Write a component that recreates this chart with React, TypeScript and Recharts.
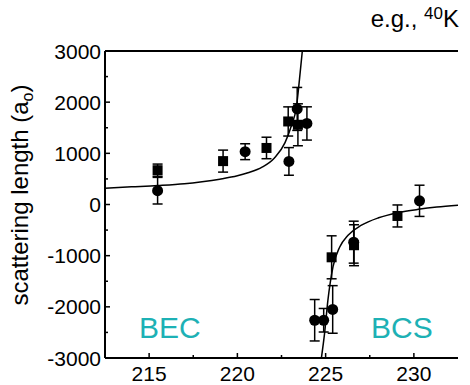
import React from 'react';
import { ComposedChart, ErrorBar, Line, Scatter, XAxis, YAxis } from 'recharts';

// magnetic field ticks (G) and scattering length ticks (a0)
const fieldTicks = [215, 217.5, 220, 222.5, 225, 227.5, 230];
const lengthTicks = [-3000, -2500, -2000, -1500, -1000, -500, 0, 500, 1000, 1500, 2000, 2500, 3000];

const squares = [
  { B: 215.48, a: 670, err: 120 },
  { B: 219.19, a: 848, err: 215 },
  { B: 221.65, a: 1105, err: 210 },
  { B: 222.88, a: 1623, err: 285 },
  { B: 223.43, a: 1558, err: 410 },
  { B: 225.34, a: -1032, err: 420 },
  { B: 226.61, a: -796, err: 400 },
  { B: 229.07, a: -224, err: 215 },
];

const circles = [
  { B: 215.48, a: 270, err: 260 },
  { B: 220.44, a: 1032, err: 155 },
  { B: 222.92, a: 842, err: 270 },
  { B: 223.39, a: 1868, err: 420 },
  { B: 223.94, a: 1584, err: 325 },
  { B: 224.38, a: -2262, err: 405 },
  { B: 224.89, a: -2262, err: 230 },
  { B: 225.4, a: -2051, err: 465 },
  { B: 226.59, a: -736, err: 410 },
  { B: 230.32, a: 72, err: 305 },
];

// fit curve, both sides of the resonance
const becBranch = [
  { B: 212.5, a: 320 },
  { B: 214, a: 345 },
  { B: 215.5, a: 370 },
  { B: 217, a: 405 },
  { B: 218, a: 445 },
  { B: 219, a: 495 },
  { B: 220, a: 560 },
  { B: 220.6, a: 620 },
  { B: 221.4, a: 730 },
  { B: 222.1, a: 910 },
  { B: 222.7, a: 1210 },
  { B: 223.05, a: 1530 },
  { B: 223.35, a: 1920 },
  { B: 223.52, a: 2450 },
  { B: 223.68, a: 3000 },
];

const bcsBranch = [
  { B: 224.76, a: -3000 },
  { B: 224.94, a: -2520 },
  { B: 225.13, a: -1870 },
  { B: 225.42, a: -1215 },
  { B: 225.8, a: -830 },
  { B: 226.27, a: -600 },
  { B: 227.03, a: -405 },
  { B: 228, a: -260 },
  { B: 229.1, a: -160 },
  { B: 230.25, a: -95 },
  { B: 231.3, a: -50 },
  { B: 232.5, a: -15 },
];

const font = '"Liberation Sans", Arial, Helvetica, sans-serif';
const teal = '#1db1b5';

const BottomTick = (props: any) => {
  const { x, y, payload } = props;
  const major = payload.value % 5 === 0;
  return (
    <g>
      <line x1={x} x2={x} y1={y} y2={y - (major ? 5 : 3)} stroke="#000" strokeWidth={1.5} />
      {major && (
        <text x={x} y={y + 23} textAnchor="middle" fontSize={21} fontFamily={font} fill="#000">
          {payload.value}
        </text>
      )}
    </g>
  );
};

const TopTick = (props: any) => {
  const { x, y, payload } = props;
  const major = payload.value % 5 === 0;
  return <line x1={x} x2={x} y1={y} y2={y + (major ? 5 : 3)} stroke="#000" strokeWidth={1.5} />;
};

const LeftTick = (props: any) => {
  const { x, y, payload } = props;
  const major = payload.value % 1000 === 0;
  return (
    <g>
      <line x1={x} x2={x + (major ? 5 : 3)} y1={y} y2={y} stroke="#000" strokeWidth={1.5} />
      {major && (
        <text x={x - 4} y={y + 7.5} textAnchor="end" fontSize={21} fontFamily={font} fill="#000">
          {payload.value}
        </text>
      )}
    </g>
  );
};

const RightTick = (props: any) => {
  const { x, y, payload } = props;
  const major = payload.value % 1000 === 0;
  return <line x1={x} x2={x - (major ? 5 : 3)} y1={y} y2={y} stroke="#000" strokeWidth={1.5} />;
};

const SquareMark = (p: any) => <rect x={p.cx - 5} y={p.cy - 5} width={10} height={10} fill="#000" />;
const CircleMark = (p: any) => <circle cx={p.cx} cy={p.cy} r={5.5} fill="#000" />;

export default function App() {
  return (
    <div style={{ position: 'absolute', left: 0, top: 0, width: 470, height: 385, background: '#fff' }}>
      <ComposedChart width={470} height={385} margin={{ top: 0, right: 12, bottom: 0, left: 0 }}>
        <XAxis
          xAxisId="x"
          dataKey="B"
          type="number"
          domain={[212.5, 232.5]}
          allowDataOverflow
          ticks={fieldTicks}
          interval={0}
          height={27}
          tickSize={0}
          tickMargin={0}
          tick={<BottomTick />}
          axisLine={{ stroke: '#000', strokeWidth: 2 }}
        />
        <XAxis
          xAxisId="top"
          orientation="top"
          type="number"
          domain={[212.5, 232.5]}
          ticks={fieldTicks}
          interval={0}
          height={51}
          tickSize={0}
          tickMargin={0}
          tick={<TopTick />}
          axisLine={{ stroke: '#000', strokeWidth: 2 }}
        />
        <YAxis
          yAxisId="y"
          dataKey="a"
          type="number"
          domain={[-3000, 3000]}
          allowDataOverflow
          ticks={lengthTicks}
          interval={0}
          width={105}
          tickSize={0}
          tickMargin={0}
          tick={<LeftTick />}
          axisLine={{ stroke: '#000', strokeWidth: 2 }}
        />
        <YAxis
          yAxisId="right"
          orientation="right"
          type="number"
          domain={[-3000, 3000]}
          ticks={lengthTicks}
          interval={0}
          width={0}
          tickSize={0}
          tickMargin={0}
          tick={<RightTick />}
          axisLine={{ stroke: '#000', strokeWidth: 2 }}
        />
        <Line
          xAxisId="x"
          yAxisId="y"
          data={becBranch}
          dataKey="a"
          type="monotone"
          stroke="#000"
          strokeWidth={1.5}
          dot={false}
          isAnimationActive={false}
        />
        <Line
          xAxisId="x"
          yAxisId="y"
          data={bcsBranch}
          dataKey="a"
          type="monotone"
          stroke="#000"
          strokeWidth={1.5}
          dot={false}
          isAnimationActive={false}
        />
        <Scatter xAxisId="x" yAxisId="y" data={squares} dataKey="a" shape={SquareMark} isAnimationActive={false}>
          <ErrorBar dataKey="err" direction="y" width={5} stroke="#000" strokeWidth={1.5} />
        </Scatter>
        <Scatter xAxisId="x" yAxisId="y" data={circles} dataKey="a" shape={CircleMark} isAnimationActive={false}>
          <ErrorBar dataKey="err" direction="y" width={5} stroke="#000" strokeWidth={1.5} />
        </Scatter>
      </ComposedChart>
      <svg
        width={470}
        height={385}
        style={{ position: 'absolute', left: 0, top: 0, pointerEvents: 'none' }}
        fontFamily={font}
      >
        <text x={459} y={27} textAnchor="end" fontSize={24} fill="#000">
          e.g.,{' '}
          <tspan fontSize={17} dy={-8}>
            40
          </tspan>
          <tspan dy={8}>K</tspan>
        </text>
        <text transform="rotate(-90)" x={-195} y={28} textAnchor="middle" fontSize={24} fill="#000">
          scattering length (a
          <tspan fontSize={16} dy={5}>
            o
          </tspan>
          <tspan dy={-5}>)</tspan>
        </text>
        <text x={139} y={338} fontSize={30} fill={teal}>
          BEC
        </text>
        <text x={371} y={338} fontSize={30} fill={teal}>
          BCS
        </text>
      </svg>
    </div>
  );
}
